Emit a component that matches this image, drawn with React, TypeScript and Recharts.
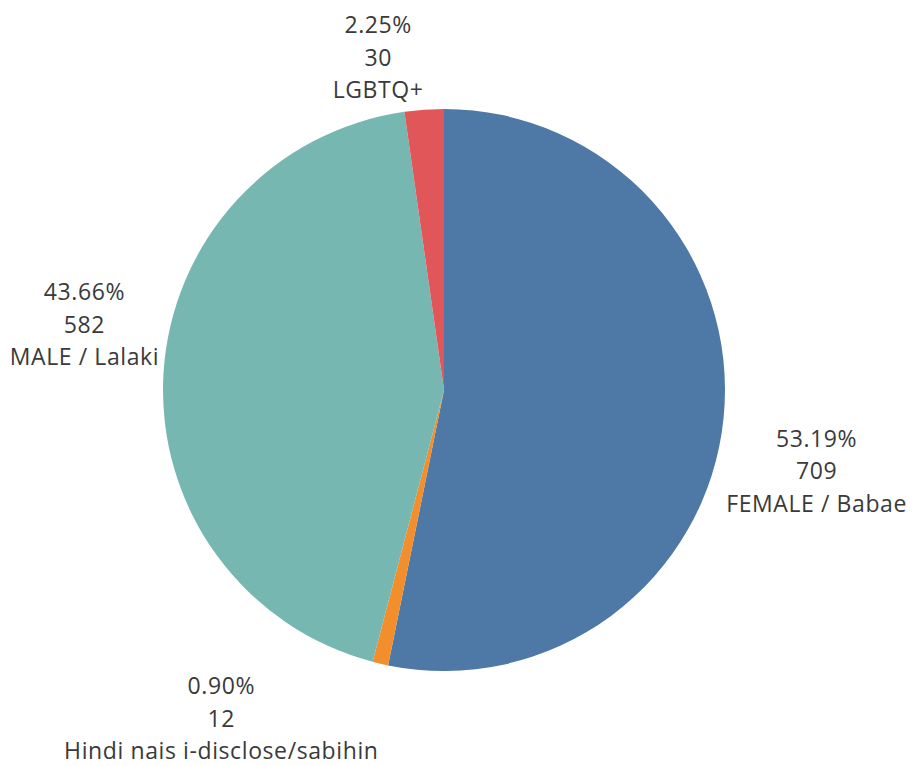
import React from "react";
import { PieChart, Pie, Cell } from "recharts";

const categories = ["FEMALE / Babae", "Hindi nais i-disclose/sabihin", "MALE / Lalaki", "LGBTQ+"];
const counts = [709, 12, 582, 30];
const percentLabels = ["53.19%", "0.90%", "43.66%", "2.25%"];
const colors = ["#4e79a7", "#f28e2b", "#76b7b2", "#e15759"];

const data = categories.map((name, i) => ({
  name,
  value: counts[i],
  pct: percentLabels[i],
}));

// label block offsets relative to the slice's outer edge midpoint (layout only)
const labelShift: Record<string, [number, number]> = {
  "FEMALE / Babae": [93, 52],
  "Hindi nais i-disclose/sabihin": [-159, 54],
  "MALE / Lalaki": [-79, -50],
  "LGBTQ+": [-46, -53],
};

const RAD = Math.PI / 180;
const LINE = 32.5;

const renderLabel = (props: any) => {
  const { cx, cy, midAngle, outerRadius, name, value, payload } = props;
  const ex = cx + outerRadius * Math.cos(-midAngle * RAD);
  const ey = cy + outerRadius * Math.sin(-midAngle * RAD);
  const [dx, dy] = labelShift[name] || [0, 0];
  const x = ex + dx;
  const y = ey + dy;
  return (
    <text
      x={x}
      y={y - LINE}
      textAnchor="middle"
      dominantBaseline="central"
      fill="#3a3a3a"
      style={{ fontFamily: "'Open Sans', sans-serif", fontSize: 23, letterSpacing: 0.6 }}
    >
      <tspan x={x} y={y - LINE}>{payload.pct}</tspan>
      <tspan x={x} y={y}>{value}</tspan>
      <tspan x={x} y={y + LINE}>{name}</tspan>
    </text>
  );
};

export default function App() {
  return (
    <div style={{ position: "absolute", left: 0, top: 0, width: 914, height: 766, background: "#fff" }}>
      <PieChart width={914} height={766} margin={{ top: 0, right: 0, bottom: 0, left: 0 }}>
        <Pie
          data={data}
          dataKey="value"
          nameKey="name"
          cx={444}
          cy={390}
          outerRadius={281}
          startAngle={90}
          endAngle={-270}
          stroke="none"
          label={renderLabel}
          labelLine={false}
          isAnimationActive={false}
        >
          {data.map((d, i) => (
            <Cell key={d.name} fill={colors[i]} />
          ))}
        </Pie>
      </PieChart>
    </div>
  );
}
